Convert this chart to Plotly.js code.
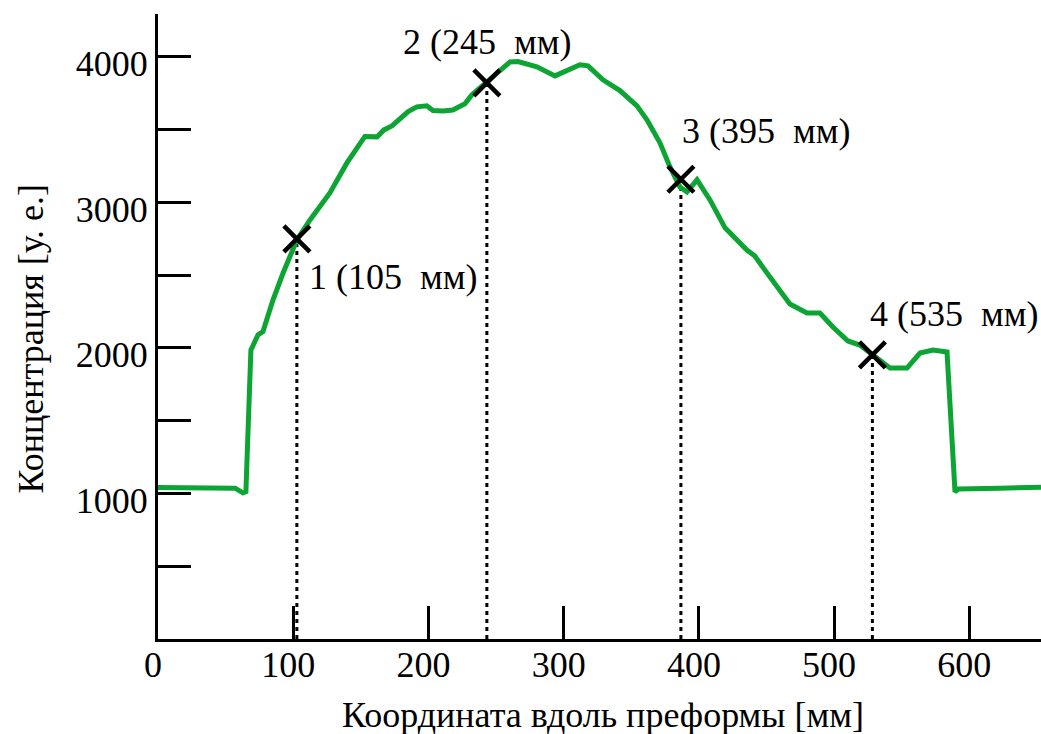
<!DOCTYPE html>
<html>
<head>
<meta charset="utf-8">
<script src="https://cdn.plot.ly/plotly-3.0.1.min.js"></script>
<style>html,body{margin:0;padding:0;background:#fff;}#chart{width:1041px;height:734px;}</style>
</head>
<body>
<div id="chart"></div>
<script>
// Profile of concentration along the preform
const profileX = [0, 31, 57, 62.8, 65, 68.7, 73.9, 77.6, 85, 92.5, 102.7, 112.4, 127.1, 139.7, 153, 162, 167, 173, 185, 191.4, 198.8, 203.3, 210.7, 218, 227, 232, 238, 243.2, 250.6, 260.3, 266.2, 280.2, 293.6, 302.5, 312, 318, 329, 341.6, 354.2, 361.6, 371.2, 378.6, 386, 391.2, 398.6, 408.2, 419.3, 435.5, 441.4, 448.8, 467.3, 479.9, 489.5, 499.1, 510.2, 519, 528, 541.3, 553.9, 563.5, 573.1, 583.5, 589.4, 591.6, 622.7, 653];
const profileY = [1041, 1036, 1036, 1004, 1011, 1985, 2088, 2111, 2328, 2514, 2741, 2878, 3064, 3270, 3452, 3449, 3497, 3524, 3623, 3655, 3662, 3630, 3627, 3634, 3676, 3737, 3786, 3820, 3888, 3964, 3966, 3930, 3868, 3904, 3944, 3937, 3841, 3767, 3662, 3566, 3408, 3243, 3105, 3071, 3154, 3016, 2824, 2672, 2631, 2534, 2301, 2239, 2239, 2143, 2047, 2019, 1951, 1861, 1861, 1964, 1985, 1971, 1011, 1030, 1036, 1043];

// Marked sample points
const pointX = [102.7, 243.2, 386.7, 528.3];
const pointY = [2748, 3820, 3158, 1951];
const pointLabels = ["1 (105  мм)", "2 (245  мм)", "3 (395  мм)", "4 (535  мм)"];

// Axis ticks
const xTickVals = [0, 100, 200, 300, 400, 500, 600];
const xTickText = ["0", "100", "200", "300", "400", "500", "600"];
const yTickVals = [500, 1000, 1500, 2000, 2500, 3000, 3500, 4000];
const yTickText = ["", "1000", "", "2000", "", "3000", "", "4000"];

const xTitle = "Координата вдоль преформы [мм]";
const yTitle = "Концентрация [у. е.]";

const FONT = "Liberation Serif, Times New Roman, serif";
const FS = 36;

const traces = [];
// dotted drop lines
pointX.forEach((px, i) => {
  traces.push({
    x: [px, px], y: [0, pointY[i]], mode: 'lines', type: 'scatter',
    line: {color: '#000', width: 3, dash: '4px,4px'}, hoverinfo: 'skip', showlegend: false
  });
});
traces.push({
  x: profileX, y: profileY, mode: 'lines', type: 'scatter',
  line: {color: '#0ca534', width: 5}, showlegend: false
});
traces.push({
  x: pointX, y: pointY, mode: 'markers', type: 'scatter',
  marker: {symbol: 'x-thin', size: 26, line: {color: '#000', width: 4.5}, color: '#000'}, showlegend: false
});

// label placement (px) relative to point
const labelDx = [10, 1, -1, -4];
const labelDy = [-38, 41, 48, 41];
const labelAnchor = ['left', 'center', 'left', 'left'];

const annotations = pointX.map((px, i) => ({
  x: px, y: pointY[i], xref: 'x', yref: 'y', text: pointLabels[i],
  showarrow: false, xanchor: labelAnchor[i], yanchor: 'middle',
  xshift: labelDx[i], yshift: labelDy[i],
  font: {family: FONT, size: FS, color: '#000'}
}));
annotations.push({
  xref: 'paper', yref: 'paper', x: 0.5, y: 0, xanchor: 'center', yanchor: 'middle',
  xshift: 3, yshift: -76, text: xTitle, showarrow: false,
  font: {family: FONT, size: FS, color: '#000'}
});
annotations.push({
  xref: 'paper', yref: 'paper', x: 0, y: 0.4808, xanchor: 'center', yanchor: 'middle',
  xshift: -128, textangle: -90, text: yTitle, showarrow: false,
  font: {family: FONT, size: FS, color: '#000'}
});

const layout = {
  width: 1041, height: 734,
  margin: {l: 158, r: 0, t: 14, b: 95, pad: 0},
  paper_bgcolor: '#fff', plot_bgcolor: '#fff',
  showlegend: false,
  font: {family: FONT, color: '#000'},
  xaxis: {
    range: [0, 653], showgrid: false, zeroline: false,
    showline: true, linewidth: 3, linecolor: '#000',
    ticks: 'inside', ticklen: 33, tickwidth: 3, tickcolor: '#000',
    tickmode: 'array', tickvals: xTickVals, ticktext: xTickText,
    tickfont: {family: FONT, size: FS, color: '#000'},
    ticklabelshift: -5, ticklabelstandoff: -8
  },
  yaxis: {
    range: [0, 4293], showgrid: false, zeroline: false,
    showline: true, linewidth: 3, linecolor: '#000',
    ticks: 'inside', ticklen: 33, tickwidth: 3, tickcolor: '#000',
    tickmode: 'array', tickvals: yTickVals, ticktext: yTickText,
    tickfont: {family: FONT, size: FS, color: '#000'},
    ticklabelshift: 7
  },
  annotations: annotations
};

Plotly.newPlot('chart', traces, layout, {displayModeBar: false, staticPlot: true});
</script>
</body>
</html>
